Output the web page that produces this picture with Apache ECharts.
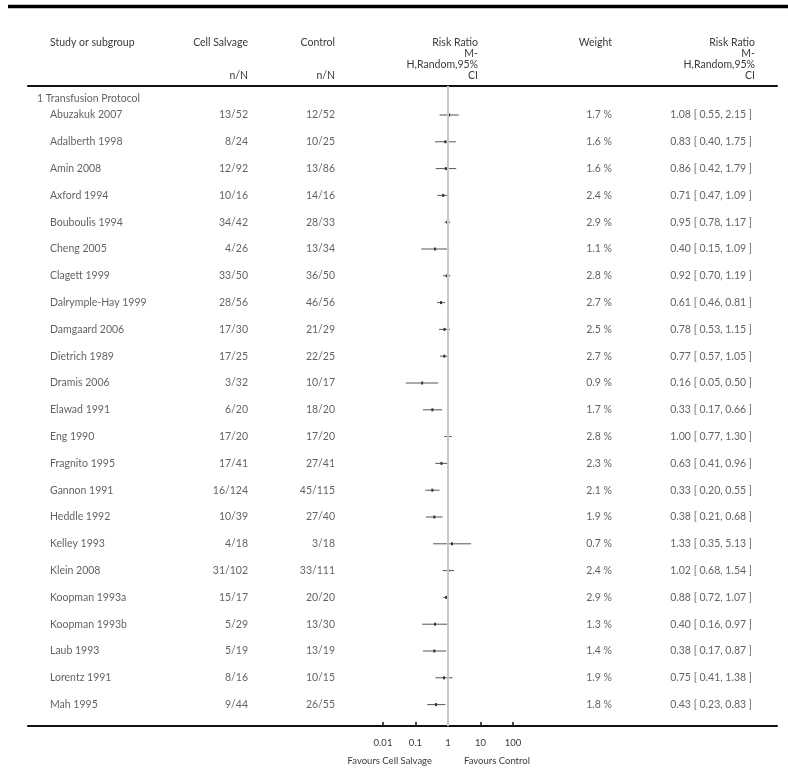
<!DOCTYPE html>
<html>
<head>
<meta charset="utf-8">
<title>Cell salvage vs control: risk of transfusion</title>
<script src="https://cdn.jsdelivr.net/npm/echarts/dist/echarts.min.js"></script>
<style>
  html, body { margin: 0; padding: 0; background: #fff; }
  #chart { width: 788px; height: 770px; }
</style>
</head>
<body>
<div id="chart"></div>
<script>
// ---- Data -------------------------------------------------------------
const subgroupTitle = '1 Transfusion Protocol';

const studies = [
  'Abuzakuk 2007', 'Adalberth 1998', 'Amin 2008', 'Axford 1994', 'Bouboulis 1994',
  'Cheng 2005', 'Clagett 1999', 'Dalrymple-Hay 1999', 'Damgaard 2006', 'Dietrich 1989',
  'Dramis 2006', 'Elawad 1991', 'Eng 1990', 'Fragnito 1995', 'Gannon 1991',
  'Heddle 1992', 'Kelley 1993', 'Klein 2008', 'Koopman 1993a', 'Koopman 1993b',
  'Laub 1993', 'Lorentz 1991', 'Mah 1995'
];
const cellSalvageEvents = [13, 8, 12, 10, 34, 4, 33, 28, 17, 17, 3, 6, 17, 17, 16, 10, 4, 31, 15, 5, 5, 8, 9];
const cellSalvageTotal  = [52, 24, 92, 16, 42, 26, 50, 56, 30, 25, 32, 20, 20, 41, 124, 39, 18, 102, 17, 29, 19, 16, 44];
const controlEvents     = [12, 10, 13, 14, 28, 13, 36, 46, 21, 22, 10, 18, 17, 27, 45, 27, 3, 33, 20, 13, 13, 10, 26];
const controlTotal      = [52, 25, 86, 16, 33, 34, 50, 56, 29, 25, 17, 20, 20, 41, 115, 40, 18, 111, 20, 30, 19, 15, 55];
const weightPct         = [1.7, 1.6, 1.6, 2.4, 2.9, 1.1, 2.8, 2.7, 2.5, 2.7, 0.9, 1.7, 2.8, 2.3, 2.1, 1.9, 0.7, 2.4, 2.9, 1.3, 1.4, 1.9, 1.8];
const riskRatio         = [1.08, 0.83, 0.86, 0.71, 0.95, 0.40, 0.92, 0.61, 0.78, 0.77, 0.16, 0.33, 1.00, 0.63, 0.33, 0.38, 1.33, 1.02, 0.88, 0.40, 0.38, 0.75, 0.43];
const ciLower           = [0.55, 0.40, 0.42, 0.47, 0.78, 0.15, 0.70, 0.46, 0.53, 0.57, 0.05, 0.17, 0.77, 0.41, 0.20, 0.21, 0.35, 0.68, 0.72, 0.16, 0.17, 0.41, 0.23];
const ciUpper           = [2.15, 1.75, 1.79, 1.09, 1.17, 1.09, 1.19, 0.81, 1.15, 1.05, 0.50, 0.66, 1.30, 0.96, 0.55, 0.68, 5.13, 1.54, 1.07, 0.97, 0.87, 1.38, 0.83];

const tickValues = [0.01, 0.1, 1, 10, 100];
const tickLabels = ['0.01', '0.1', '1', '10', '100'];

// ---- Layout -----------------------------------------------------------
const W = 788, H = 770;
const FONT = 'Lato, "Open Sans", sans-serif';
const FS = 10.5;
const TXT = '#3a3a3a';

const ROW0_Y = 115;        // centre of the first study row
const ROW_PITCH = 26.8;    // distance between study rows
const RULE_TOP = 86;       // rule under the column headers
const RULE_BOTTOM = 726;   // rule carrying the ratio axis
const RULE_LEFT = 28, RULE_RIGHT = 777;
const PLOT_LEFT = 383, PLOT_RIGHT = 513; // 0.01 .. 100 on the ratio scale

const yMin = (RULE_TOP - ROW0_Y) / ROW_PITCH;
const yMax = (RULE_BOTTOM - ROW0_Y) / ROW_PITCH;

// table columns (x in page pixels, carried by the table grid's own axis)
const COL_NAME = 50, COL_GROUP = 37, COL_CS = 248, COL_CTL = 335,
      COL_RRHEAD = 478, COL_WEIGHT = 612, COL_RRTEXT = 752, COL_RRHEAD2 = 755;
const HEAD_Y = [43, 54, 65, 76];

// ---- Derived rows ----------------------------------------------------
const idx = studies.map((_, i) => i);
const textSeries = (x, align, fmt) => ({
  type: 'scatter', xAxisIndex: 0, yAxisIndex: 0, symbolSize: 0, silent: true,
  data: idx.map(i => [x, i, fmt(i)]),
  label: {
    show: true, position: [0, 0], align: align, verticalAlign: 'middle',
    formatter: p => p.data[2], color: TXT, fontFamily: FONT, fontSize: FS
  }
});

const forestData = idx.map(i => [riskRatio[i], ciLower[i], ciUpper[i], i, weightPct[i]]);

function headerText(x, y, text, align) {
  return {
    type: 'text', x: x, y: y, silent: true,
    style: { text: text, fill: TXT, font: FS + 'px ' + FONT, align: align, verticalAlign: 'middle' }
  };
}

const plainAxis = {
  axisTick: { show: false }, axisLabel: { show: false }, splitLine: { show: false }
};

const chart = echarts.init(document.getElementById('chart'), null, { renderer: 'canvas' });

chart.setOption({
  backgroundColor: '#fff',
  animation: false,
  grid: [
    { left: RULE_LEFT, right: W - RULE_RIGHT, top: RULE_TOP, bottom: H - RULE_BOTTOM },
    { left: PLOT_LEFT, right: W - PLOT_RIGHT, top: RULE_TOP, bottom: H - RULE_BOTTOM }
  ],
  xAxis: [
    Object.assign({ // table grid: bottom rule
      gridIndex: 0, type: 'value', min: RULE_LEFT, max: RULE_RIGHT, position: 'bottom',
      axisLine: { show: true, onZero: false, lineStyle: { color: '#111', width: 2 } }
    }, plainAxis),
    Object.assign({ // table grid: header rule
      gridIndex: 0, type: 'value', min: RULE_LEFT, max: RULE_RIGHT, position: 'top',
      axisLine: { show: true, onZero: false, lineStyle: { color: '#111', width: 2 } }
    }, plainAxis),
    { // ratio scale
      gridIndex: 1, type: 'log', logBase: 10, min: 0.01, max: 100, interval: 1,
      position: 'bottom',
      axisLine: { show: false, onZero: false },
      axisTick: { show: true, inside: true, length: 4, lineStyle: { color: '#111', width: 1.5 } },
      axisLabel: {
        margin: 12, color: TXT, fontFamily: FONT, fontSize: 9.5,
        formatter: v => {
          const k = tickValues.findIndex(t => Math.abs(Math.log10(t) - Math.log10(v)) < 1e-6);
          return k >= 0 ? tickLabels[k] : '';
        }
      },
      splitLine: { show: false }
    }
  ],
  yAxis: [
    { gridIndex: 0, type: 'value', inverse: true, min: yMin, max: yMax, show: false },
    { gridIndex: 1, type: 'value', inverse: true, min: yMin, max: yMax, show: false }
  ],
  series: [
    // subgroup heading
    {
      type: 'scatter', xAxisIndex: 0, yAxisIndex: 0, symbolSize: 0, silent: true,
      data: [[COL_GROUP, -0.6, subgroupTitle]],
      label: { show: true, position: [0, 0], align: 'left', verticalAlign: 'middle',
               formatter: p => p.data[2], color: TXT, fontFamily: FONT, fontSize: FS }
    },
    textSeries(COL_NAME, 'left', i => studies[i]),
    textSeries(COL_CS, 'right', i => cellSalvageEvents[i] + '/' + cellSalvageTotal[i]),
    textSeries(COL_CTL, 'right', i => controlEvents[i] + '/' + controlTotal[i]),
    textSeries(COL_WEIGHT, 'right', i => weightPct[i].toFixed(1) + ' %'),
    textSeries(COL_RRTEXT, 'right', i =>
      riskRatio[i].toFixed(2) + ' [ ' + ciLower[i].toFixed(2) + ', ' + ciUpper[i].toFixed(2) + ' ]'),
    // forest plot: confidence intervals and point estimates
    {
      type: 'custom', xAxisIndex: 2, yAxisIndex: 1, silent: true,
      data: forestData,
      encode: { x: [0, 1, 2], y: 3 },
      renderItem: (params, api) => {
        const y = api.value(3);
        const p = api.coord([api.value(0), y]);
        const a = api.coord([api.value(1), y]);
        const b = api.coord([api.value(2), y]);
        return {
          type: 'group',
          children: [
            { type: 'line', shape: { x1: a[0], y1: a[1], x2: b[0], y2: b[1] },
              style: { stroke: '#555', lineWidth: 1 } },
            { type: 'rect', shape: { x: p[0] - 1, y: p[1] - 1.5, width: 2, height: 3 },
              style: { fill: '#333' } }
          ]
        };
      },
      markLine: {
        silent: true, symbol: 'none', label: { show: false },
        lineStyle: { color: '#c8c8c8', width: 2, type: 'solid' },
        data: [{ xAxis: 1 }]
      },
      z: 3
    }
  ],
  graphic: [
    { type: 'line', silent: true, shape: { x1: 8, y1: 6.5, x2: W, y2: 6.5 },
      style: { stroke: '#000', lineWidth: 3.5 } },
    headerText(COL_NAME, HEAD_Y[0], 'Study or subgroup', 'left'),
    headerText(COL_CS, HEAD_Y[0], 'Cell Salvage', 'right'),
    headerText(COL_CS, HEAD_Y[3], 'n/N', 'right'),
    headerText(COL_CTL, HEAD_Y[0], 'Control', 'right'),
    headerText(COL_CTL, HEAD_Y[3], 'n/N', 'right'),
    headerText(COL_RRHEAD, HEAD_Y[0], 'Risk Ratio', 'right'),
    headerText(COL_RRHEAD, HEAD_Y[1], 'M-', 'right'),
    headerText(COL_RRHEAD, HEAD_Y[2], 'H,Random,95%', 'right'),
    headerText(COL_RRHEAD, HEAD_Y[3], 'CI', 'right'),
    headerText(COL_WEIGHT, HEAD_Y[0], 'Weight', 'right'),
    headerText(COL_RRHEAD2, HEAD_Y[0], 'Risk Ratio', 'right'),
    headerText(COL_RRHEAD2, HEAD_Y[1], 'M-', 'right'),
    headerText(COL_RRHEAD2, HEAD_Y[2], 'H,Random,95%', 'right'),
    headerText(COL_RRHEAD2, HEAD_Y[3], 'CI', 'right'),
    {
      type: 'text', x: 432, y: 761, silent: true,
      style: { text: 'Favours Cell Salvage', fill: TXT, font: '9.5px ' + FONT, align: 'right', verticalAlign: 'middle' }
    },
    {
      type: 'text', x: 464, y: 761, silent: true,
      style: { text: 'Favours Control', fill: TXT, font: '9.5px ' + FONT, align: 'left', verticalAlign: 'middle' }
    }
  ]
});
</script>
</body>
</html>
